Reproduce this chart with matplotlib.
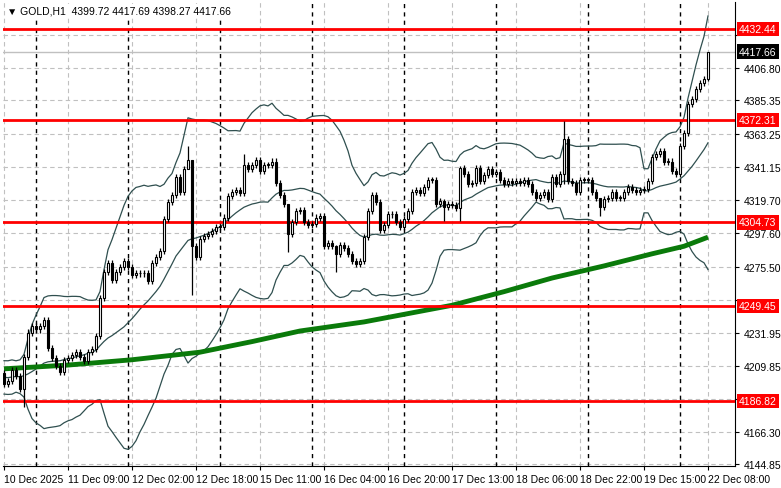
import numpy as np
import pandas as pd
import matplotlib
matplotlib.use("Agg")
import matplotlib.pyplot as plt

plt.rcParams["font.family"] = ["Liberation Sans", "DejaVu Sans"]

# Data (GOLD H1)
# ~~~~~

# closes before the visible window (only used to seed the Bollinger bands)
pre_closes = [4206, 4203, 4199, 4196, 4198, 4203, 4208, 4205, 4200, 4197,
              4201, 4205, 4209, 4206, 4202, 4199, 4203, 4207, 4203, 4205]

closes = [4198, 4200, 4207, 4203, 4195, 4216, 4232, 4236, 4234, 4236,
          4240, 4222, 4215, 4210, 4206, 4214, 4215, 4217, 4219, 4216,
          4213, 4219, 4221, 4230, 4255, 4272, 4278, 4267, 4272, 4275,
          4279, 4275, 4270, 4271, 4271, 4271, 4266, 4278, 4282, 4286,
          4307, 4318, 4323, 4335, 4325, 4340, 4346, 4289, 4282, 4294,
          4296, 4297, 4299, 4302, 4302, 4308, 4322, 4325, 4326, 4324,
          4343, 4340, 4343, 4346, 4339, 4343, 4343, 4345, 4331, 4323,
          4317, 4297, 4305, 4312, 4313, 4305, 4303, 4304, 4308, 4309,
          4289, 4291, 4289, 4284, 4290, 4288, 4284, 4279, 4277, 4279,
          4295, 4312, 4323, 4318, 4300, 4303, 4310, 4310, 4305, 4302,
          4307, 4312, 4325, 4326, 4324, 4328, 4333, 4333, 4317, 4319,
          4315, 4317, 4316, 4314, 4341, 4337, 4330, 4331, 4341, 4332,
          4336, 4340, 4337, 4338, 4333, 4330, 4332, 4331, 4332, 4331,
          4333, 4330, 4325, 4321, 4323, 4325, 4320, 4335, 4330, 4337,
          4360, 4332, 4331, 4325, 4333, 4333, 4333, 4325, 4321, 4315,
          4320, 4321, 4325, 4321, 4321, 4325, 4328, 4326, 4325, 4326,
          4327, 4332, 4348, 4350, 4352, 4345, 4345, 4339, 4337, 4355,
          4364, 4383, 4386, 4393, 4397, 4399.72, 4417.66]
first_open = 4205

# notable wicks: bar index -> (high, low)
wicks = {5: (4218, 4183), 46: (4355, 4340), 47: (4346, 4257), 60: (4350, 4322),
         71: (4317, 4285), 83: (4290, 4272), 114: (4342, 4306), 110: (4320, 4306),
         140: (4372, 4330), 149: (4321, 4309), 176: (4417.69, 4398.27)}

# 200-period MA read at a few bars
ma_bars = [0, 16, 32, 49, 62, 74, 90, 112, 125, 137, 150, 162, 170, 176]
ma_vals = [4208, 4210.5, 4214, 4219, 4226, 4233, 4239, 4250, 4259, 4268,
           4276, 4284, 4289, 4295]

levels = [4432.44, 4372.31, 4304.73, 4249.45, 4186.82]
last_price = 4417.66

ytick_vals = [4428.90, 4406.80, 4385.35, 4363.25, 4341.15, 4319.70, 4297.60,
              4275.50, 4253.40, 4231.95, 4209.85, 4188.40, 4166.30, 4144.85]
hidden_ticks = [4428.90, 4253.40, 4188.40]   # covered by the level boxes
xtick_labels = ["10 Dec 2025", "11 Dec 09:00", "12 Dec 02:00", "12 Dec 18:00",
                "15 Dec 11:00", "16 Dec 04:00", "16 Dec 20:00", "17 Dec 13:00",
                "18 Dec 06:00", "18 Dec 22:00", "19 Dec 15:00", "22 Dec 08:00"]
day_breaks = [8, 31, 54, 77, 100, 123, 146, 169]

# Build OHLC
# ~~~~~
c = np.array(closes, dtype=float)
o = np.concatenate([[first_open], c[:-1]])
hi = np.maximum(o, c) + 2.0
lo = np.minimum(o, c) - 2.0
for k, (h, l) in wicks.items():
    hi[k], lo[k] = h, l
n = len(c)
idx = np.arange(n)

# Bollinger bands (20, 3)
full = pd.Series(pre_closes + closes, dtype=float)
mid = full.rolling(20).mean().to_numpy()[len(pre_closes):]
sd = full.rolling(20).std(ddof=0).to_numpy()[len(pre_closes):]
upper = mid + 3 * sd
lower = mid - 3 * sd

# Plot
# ~~~~~
fig = plt.figure(figsize=(7.81, 4.89), dpi=100)
ax = fig.add_axes([3 / 781, 22 / 489, 732 / 781, 464 / 489])
ax.set_xlim(-0.25, 182.75)
ax.set_ylim(4143.8, 4450.4)

grid_kw = dict(color="#c0c0c0", linestyle=(0, (4, 3)), linewidth=0.8, zorder=0)
for v in ytick_vals:
    ax.axhline(v, **grid_kw)
for i in range(len(xtick_labels)):
    ax.axvline(i * 16, **grid_kw)
for b in day_breaks:
    ax.axvline(b, color="black", linestyle=(0, (3, 3)), linewidth=1.0, zorder=1)

ax.axhline(last_price, color="#c0c0c0", linewidth=1.0, zorder=1)

ax.plot(idx, upper, color="#2f4f4f", linewidth=0.9, zorder=2)
ax.plot(idx, mid, color="#2f4f4f", linewidth=0.9, zorder=2)
ax.plot(idx, lower, color="#2f4f4f", linewidth=0.9, zorder=2)
ax.plot(ma_bars, ma_vals, color="#0a7a0a", linewidth=3.5, zorder=3,
        solid_capstyle="butt")

for lv in levels:
    ax.axhline(lv, color="#ff0000", linewidth=2.0, zorder=4)

ax.vlines(idx, lo, hi, color="black", linewidth=0.9, zorder=5)
bull = c >= o
body = np.abs(c - o)
body = np.where(body < 0.6, 0.6, body)
ax.bar(idx, body, bottom=np.minimum(o, c), width=0.7,
       color=np.where(bull, "white", "black"), edgecolor="black",
       linewidth=0.8, zorder=6)

# axes styling
for s in ["top", "left"]:
    ax.spines[s].set_visible(False)
ax.spines["right"].set_color("black")
ax.spines["bottom"].set_color("black")
ax.yaxis.tick_right()
ax.set_yticks(ytick_vals)
ax.set_yticklabels(["" if v in hidden_ticks else f"{v:.2f}" for v in ytick_vals],
                   fontsize=7.5)
ax.tick_params(axis="y", length=3, pad=3)
ax.set_xticks([i * 16 for i in range(len(xtick_labels))])
ax.set_xticklabels(xtick_labels, fontsize=7.5, ha="left")
ax.tick_params(axis="x", length=3, pad=3)

for lv in levels:
    ax.annotate(f"{lv:.2f}", xy=(1, lv), xycoords=("axes fraction", "data"),
                xytext=(3, 0), textcoords="offset points", fontsize=7.5,
                color="white", va="center", ha="left", zorder=10,
                bbox=dict(boxstyle="square,pad=0.2", fc="#ff0000", ec="none"),
                annotation_clip=False)
ax.annotate(f"{last_price:.2f}", xy=(1, last_price), xycoords=("axes fraction", "data"),
            xytext=(3, 0), textcoords="offset points", fontsize=7.5,
            color="white", va="center", ha="left", zorder=10,
            bbox=dict(boxstyle="square,pad=0.2", fc="black", ec="none"),
            annotation_clip=False)

ax.text(0.006, 0.992, "\u25bc GOLD,H1  4399.72 4417.69 4398.27 4417.66",
        transform=ax.transAxes, fontsize=7.5, va="top", ha="left", zorder=11,
        bbox=dict(fc="white", ec="none", pad=1))

fig.savefig("out.png", dpi=100)
